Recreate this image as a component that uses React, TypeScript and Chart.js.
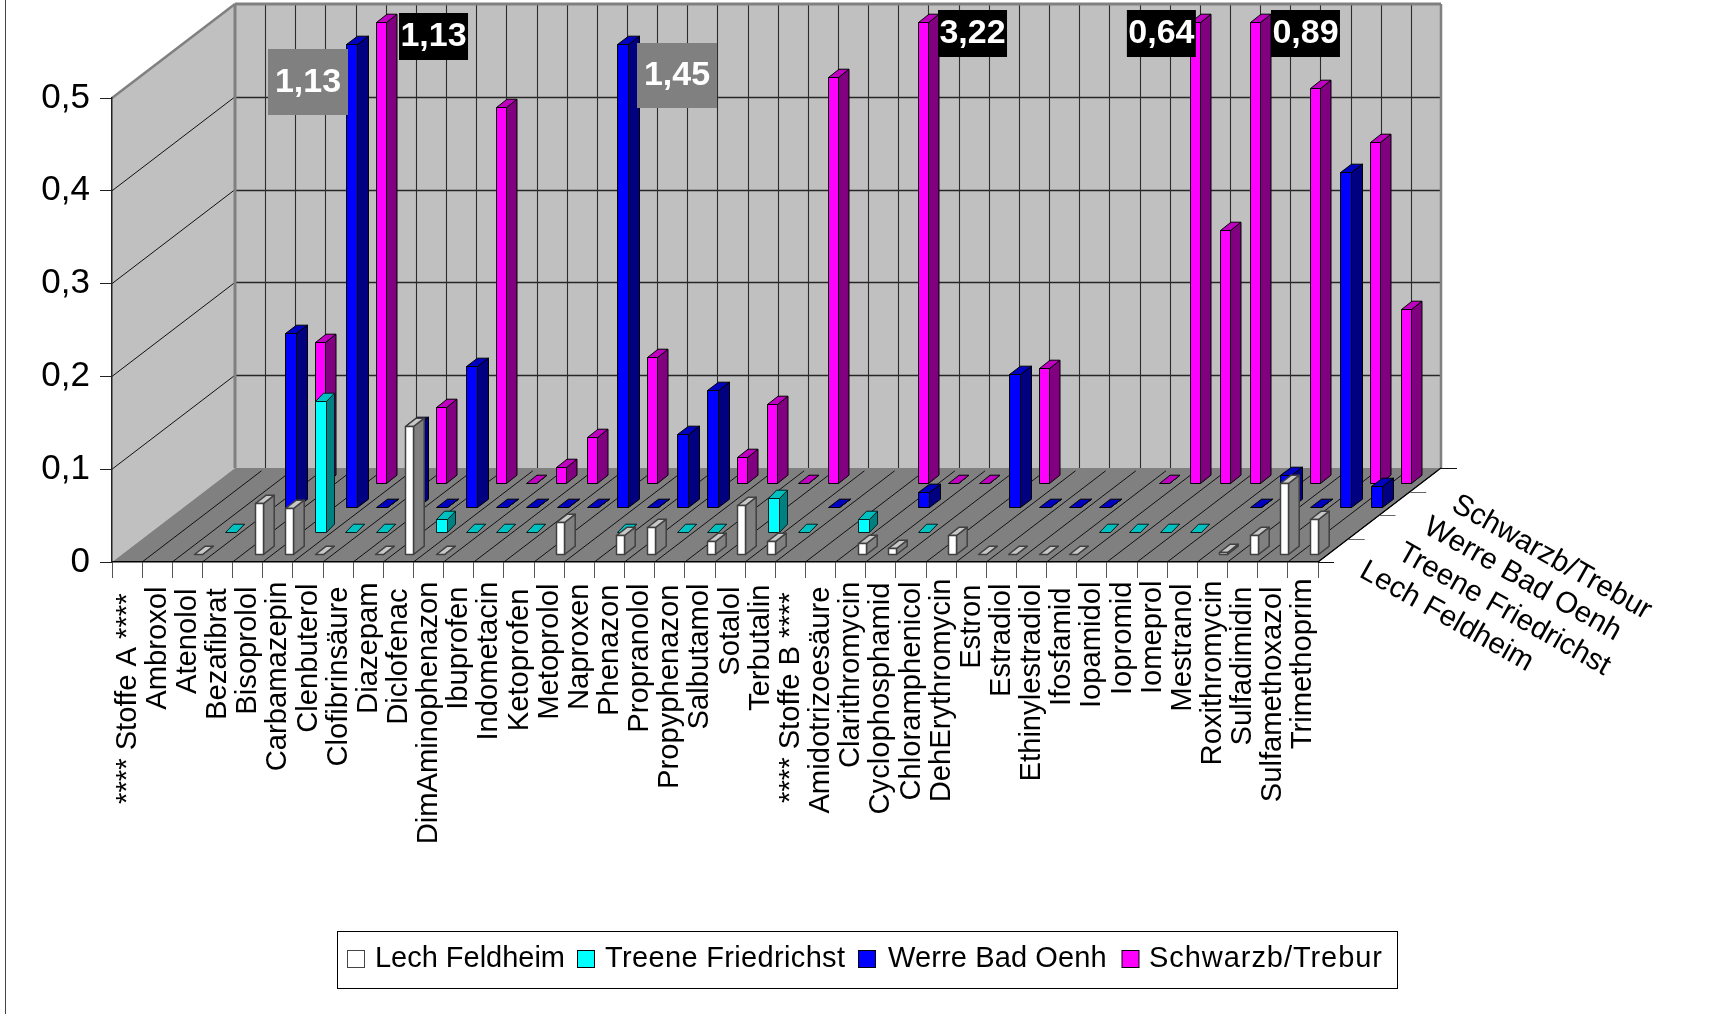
import React, { useEffect, useRef } from "react";
import { Chart, registerables } from "chart.js";

Chart.register(...registerables);

const categories = [
  "**** Stoffe A ****", "Ambroxol", "Atenolol", "Bezafibrat", "Bisoprolol", "Carbamazepin", "Clenbuterol",
  "Clofibrinsäure", "Diazepam", "Diclofenac", "DimAminophenazon", "Ibuprofen", "Indometacin", "Ketoprofen",
  "Metoprolol", "Naproxen", "Phenazon", "Propranolol", "Propyphenazon", "Salbutamol", "Sotalol", "Terbutalin",
  "**** Stoffe B ****", "Amidotrizoesäure", "Clarithromycin", "Cyclophosphamid", "Chloramphenicol",
  "DehErythromycin", "Estron", "Estradiol", "Ethinylestradiol", "Ifosfamid", "Iopamidol", "Iopromid", "Iomeprol",
  "Mestranol", "Roxithromycin", "Sulfadimidin", "Sulfamethoxazol", "Trimethoprim",
];

const N = null;
const lechFeldheim = [
  N, N, 0, N, 0.056, 0.05, 0, N, 0, 0.138,
  0, N, N, N, 0.035, N, 0.021, 0.03, N, 0.015,
  0.053, 0.015, N, N, 0.012, 0.0065, N, 0.021, 0, 0,
  0, 0, N, N, N, N, 0.003, 0.021, 0.077, 0.038,
];
const treeneFriedrichst = [
  N, N, 0, N, N, 0.1415, 0, 0, N, 0.0143,
  0, 0, 0, N, N, 0, 0, 0, 0, 0,
  0.0377, 0, N, 0.0143, N, 0, N, N, N, N,
  N, 0, 0, 0, 0, N, N, N, N, N,
];
const werreBadOenh = [
  N, N, N, 0.1884, N, 1.13, 0, 0.089, 0, 0.153,
  0, 0, 0, 0, 1.45, 0, 0.0793, 0.1267, N, N,
  N, 0, N, N, 0.0172, N, N, 0.144, 0, 0,
  0, N, N, N, N, 0, 0.035, 0, 0.362, 0.0233,
];
const schwarzbTrebur = [
  N, N, N, 0.153, N, 1.13, N, 0.0825, N, 0.4054,
  0, 0.018, 0.05, N, 0.136, N, N, 0.029, 0.0855, 0,
  0.4385, N, N, 3.22, 0, 0, N, 0.124, N, N,
  N, 0, 0.64, 0.2735, 0.89, N, 0.426, 0, 0.368, 0.1884,
];
const seriesNames = ["Lech Feldheim", "Treene Friedrichst", "Werre Bad Oenh", "Schwarzb/Trebur"];

const FONT = '"Liberation Sans", Arial, sans-serif';
const AREA = { left: 112, right: 1318, top: 98, bottom: 562 };
const DEPTH = { x: 123, y: 94 };
const FACE = ["#ffffff", "#00ffff", "#0000ff", "#ff00ff"];
const TOP = ["#c8c8c8", "#00c0c0", "#0000c0", "#c000c0"];
const SIDE = ["#808080", "#008080", "#000080", "#800080"];
const EDGE = ["#404040", "#002020", "#000000", "#000000"];
const EDGE_W = [1.5, 1, 1, 1];
const BAR_X = [7.0, 37.5, 67.7, 97.7];
const BAR_UP = [8, 30, 54.6, 79];
const BAR_W = [8, 10.7, 10.7, 10];
const BAR_SIDE = [10.7, 8, 11, 10.5];
const BAR_RISE = 8.3;
const BAR_CAP = [0.5, 0.5, 0.5, 0.497];

// Where each rotated category label ends, as the reference sets them unevenly.
const TICK_LABEL_TOPS = [
  592, 585, 587, 587, 585, 580, 582, 585, 581, 587, 580, 585, 580, 587, 582, 582, 583, 582, 583, 582,
  585, 583, 591, 585, 580, 581, 580, 577, 583, 582, 582, 586, 580, 580, 579, 582, 579, 585, 585, 577,
];
const TICK_LABEL_SHIFT = { x: 0.5, y: 1.5 };

const SERIES_LABEL_POS = [
  [1358, 576],
  [1396, 558],
  [1422, 532],
  [1450, 509.5],
];

const CALLOUTS = [
  { series: 2, index: 5, bg: "#808080", dx: -9.8, top: 49, w: 80, h: 66 },
  { series: 3, index: 5, bg: "#000000", dx: 121.2, top: 13, w: 69, h: 47 },
  { series: 2, index: 14, bg: "#808080", dx: 87.8, top: 43, w: 80, h: 65 },
  { series: 3, index: 23, bg: "#000000", dx: 117.5, top: 10, w: 69, h: 47 },
  { series: 3, index: 32, bg: "#000000", dx: 35, top: 10, w: 69, h: 47 },
  { series: 3, index: 34, bg: "#000000", dx: 118.8, top: 10, w: 69, h: 47 },
];

const LEGEND_BOX = { left: 337, top: 931, right: 1397, bottom: 988 };
const LEGEND_SWATCH_X = [347, 577, 858, 1121.5];
const LEGEND_TEXT_X = [375, 605, 888, 1149];
const LEGEND_TEXT_W = [190, 240, 218.6, 233];

const snap = (v: number) => Math.round(v) + 0.5;

function poly(ctx: CanvasRenderingContext2D, pts: number[][], fill?: string, stroke?: string, lw = 1) {
  ctx.beginPath();
  pts.forEach((p, i) => (i ? ctx.lineTo(p[0], p[1]) : ctx.moveTo(p[0], p[1])));
  ctx.closePath();
  if (fill) {
    ctx.fillStyle = fill;
    ctx.fill();
  }
  if (stroke) {
    ctx.strokeStyle = stroke;
    ctx.lineWidth = lw;
    ctx.stroke();
  }
}

function line(ctx: CanvasRenderingContext2D, x1: number, y1: number, x2: number, y2: number, c: string, lw = 1) {
  ctx.beginPath();
  ctx.moveTo(x1, y1);
  ctx.lineTo(x2, y2);
  ctx.strokeStyle = c;
  ctx.lineWidth = lw;
  ctx.stroke();
}

const scenePlugin = {
  id: "scene3d",
  beforeDraw(chart: any) {
    const ctx: CanvasRenderingContext2D = chart.ctx;
    const x = chart.scales.x;
    const y = chart.scales.y;
    const { left, right, top, bottom } = chart.chartArea;
    const bx = left + DEPTH.x;
    const bxr = right + DEPTH.x;
    const by = bottom - DEPTH.y;
    const ty = top - DEPTH.y;

    x.getLabelItems().forEach((item: any, i: number) => {
      const t = item.options.translation;
      item.options.translation = [t[0] + TICK_LABEL_SHIFT.x, TICK_LABEL_TOPS[i] + TICK_LABEL_SHIFT.y];
    });

    ctx.save();
    ctx.fillStyle = "#ffffff";
    ctx.fillRect(0, 0, chart.width, chart.height);
    line(ctx, 5.5, 0, 5.5, chart.height, "#444444", 1);

    // walls and floor
    ctx.fillStyle = "#c0c0c0";
    ctx.fillRect(bx, ty, bxr - bx, by - ty);
    poly(ctx, [[left, top], [bx, ty], [bx, by], [left, bottom]], "#c0c0c0");
    poly(ctx, [[left, bottom], [bx, by], [bxr, by], [right, bottom]], "#808080");

    // value grid
    y.ticks.forEach((t: any) => {
      const py = y.getPixelForValue(t.value);
      if (t.value > 0) {
        line(ctx, left, py, bx, py - DEPTH.y, "#111111", 1);
      }
      if (t.value > 0 && t.value < 0.5) {
        line(ctx, bx, snap(py - DEPTH.y), bxr, snap(py - DEPTH.y), "#262626", 1.3);
      }
    });
    // category grid
    const step = (right - left) / categories.length;
    for (let k = 0; k <= categories.length; k++) {
      const fx = left + k * step;
      if (k > 0 && k < categories.length) {
        line(ctx, snap(fx + DEPTH.x), ty, snap(fx + DEPTH.x), by, "#2c2c2c", 1.1);
      }
      if (k > 0) {
        line(ctx, fx, bottom, fx + DEPTH.x * 0.97, bottom - DEPTH.y * 0.97, "#111111", 1);
      }
    }
    // frame
    line(ctx, bx, ty, bx, by, "#808080", 3);
    line(ctx, bx, ty, bxr, ty, "#808080", 3);
    line(ctx, bxr, ty, bxr, by, "#808080", 2.5);
    line(ctx, left, top, bx, ty, "#808080", 2.5);
    // depth axis
    line(ctx, right, bottom, bxr, by, "#000000", 1.2);
    for (let d = 0; d <= 4; d++) {
      const px = right + (DEPTH.x * d) / 4;
      const py = snap(bottom - (DEPTH.y * d) / 4);
      line(ctx, px, py, px + 16, py, d % 4 === 0 ? "#111111" : "#666666", 1);
    }
    ctx.restore();
  },
  beforeDatasetsDraw(chart: any) {
    const ctx: CanvasRenderingContext2D = chart.ctx;
    const y = chart.scales.y;
    const zero = y.getPixelForValue(0);
    ctx.save();
    ctx.lineJoin = "round";
    for (let s = chart.data.datasets.length - 1; s >= 0; s--) {
      const meta = chart.getDatasetMeta(s);
      const values = chart.data.datasets[s].data;
      const cap = y.getPixelForValue(BAR_CAP[s]);
      meta.data.forEach((el: any, k: number) => {
        if (values[k] === null || values[k] === undefined) return;
        const h = zero - Math.max(el.y, cap);
        const base = snap(zero - BAR_UP[s]);
        const L = snap(el.x + BAR_X[s]);
        const W = Math.round(BAR_W[s]);
        const D = BAR_SIDE[s];
        const R = BAR_RISE;
        const t = h > 0.5 ? snap(base - h) : base;
        const e = EDGE[s];
        const lw = EDGE_W[s];
        poly(ctx, [[L + W, base], [L + W + D, base - R], [L + W + D, t - R], [L + W, t]], SIDE[s], e, lw);
        poly(ctx, [[L, t], [L + D, t - R], [L + W + D, t - R], [L + W, t]], TOP[s], e, lw);
        if (h > 0.5) poly(ctx, [[L, t], [L + W, t], [L + W, base], [L, base]], FACE[s], e, lw);
      });
    }
    ctx.restore();
    return false;
  },
  afterDraw(chart: any) {
    const ctx: CanvasRenderingContext2D = chart.ctx as any;
    const x = chart.scales.x;
    ctx.save();
    // depth-axis labels
    ctx.fillStyle = "#000000";
    ctx.font = `29.6px ${FONT}`;
    ctx.textAlign = "left";
    ctx.textBaseline = "alphabetic";
    chart.data.datasets.forEach((ds: any, i: number) => {
      const [px, py] = SERIES_LABEL_POS[i];
      ctx.save();
      ctx.translate(px, py);
      ctx.rotate((29.5 * Math.PI) / 180);
      ctx.fillText(ds.label, 0, 0);
      ctx.restore();
    });

    // legend
    ctx.font = `29px ${FONT}`;
    const b = LEGEND_BOX;
    ctx.fillStyle = "#ffffff";
    ctx.fillRect(b.left, b.top, b.right - b.left, b.bottom - b.top);
    ctx.strokeStyle = "#000000";
    ctx.lineWidth = 1;
    ctx.strokeRect(b.left + 0.5, b.top + 0.5, b.right - b.left, b.bottom - b.top);
    chart.data.datasets.forEach((ds: any, i: number) => {
      ctx.fillStyle = ds.backgroundColor;
      ctx.strokeStyle = ds.borderColor;
      ctx.fillRect(LEGEND_SWATCH_X[i] + 0.5, 950.5, 17, 17);
      ctx.strokeRect(LEGEND_SWATCH_X[i] + 0.5, 950.5, 17, 17);
      ctx.fillStyle = "#000000";
      (ctx as any).letterSpacing = "0px";
      const measured = ctx.measureText(ds.label).width;
      const extra = (LEGEND_TEXT_W[i] - measured) / (ds.label.length - 1);
      (ctx as any).letterSpacing = `${extra.toFixed(3)}px`;
      ctx.fillText(ds.label, LEGEND_TEXT_X[i], 966.5);
    });
    (ctx as any).letterSpacing = "0px";

    // off-scale value callouts
    ctx.font = `bold 34px ${FONT}`;
    ctx.textAlign = "center";
    ctx.textBaseline = "middle";
    CALLOUTS.forEach((c) => {
      const v = chart.data.datasets[c.series].data[c.index];
      const l = x.getPixelForValue(c.index) + c.dx;
      ctx.fillStyle = c.bg;
      ctx.fillRect(l, c.top, c.w, c.h);
      ctx.fillStyle = "#ffffff";
      ctx.fillText(v.toFixed(2).replace(".", ","), l + c.w / 2, c.top + c.h / 2 + 0.5);
    });
    ctx.restore();
  },
};

export default function App() {
  const ref = useRef<HTMLCanvasElement | null>(null);
  useEffect(() => {
    if (!ref.current) return;
    const series = [lechFeldheim, treeneFriedrichst, werreBadOenh, schwarzbTrebur];
    const chart = new Chart(ref.current, {
      type: "bar",
      data: {
        labels: categories,
        datasets: series.map((data, i) => ({
          label: seriesNames[i],
          data,
          backgroundColor: FACE[i],
          borderColor: i === 0 ? "#444444" : "#000000",
          borderWidth: 1,
        })),
      },
      options: {
        animation: false,
        responsive: false,
        devicePixelRatio: 1,
        layout: { padding: { left: 0, top: AREA.top, right: 1724 - AREA.right, bottom: 0 } },
        datasets: { bar: { grouped: false, categoryPercentage: 1, barPercentage: 0.4 } },
        scales: {
          x: {
            type: "category",
            offset: true,
            afterFit: (s: any) => {
              s.height = 1014 - AREA.bottom;
            },
            grid: { drawOnChartArea: false, tickLength: 16, color: "#555555", offset: true, lineWidth: 1 },
            border: { color: "#000000", width: 1.5 },
            ticks: {
              autoSkip: false,
              minRotation: 90,
              maxRotation: 90,
              padding: 6,
              color: "#000000",
              font: { family: FONT, size: 29.2 },
            },
          },
          y: {
            min: 0,
            max: 0.5,
            afterFit: (s: any) => {
              s.width = AREA.left;
            },
            grid: { drawOnChartArea: false, tickLength: 12, color: "#222222", lineWidth: 1 },
            border: { color: "#222222", width: 1.5 },
            ticks: {
              stepSize: 0.1,
              padding: 10,
              color: "#000000",
              font: { family: FONT, size: 35 },
              callback: (v: any) => (Number(v) === 0 ? "0" : Number(v).toFixed(1).replace(".", ",")),
            },
          },
        },
        plugins: {
          title: { display: false },
          tooltip: { enabled: false },
          legend: { display: false },
        },
      },
      plugins: [scenePlugin],
    } as any);
    return () => chart.destroy();
  }, []);
  return (
    <div style={{ position: "fixed", left: 0, top: 0, width: 1724, height: 1014, background: "#fff" }}>
      <canvas ref={ref} width={1724} height={1014} style={{ display: "block", width: 1724, height: 1014 }} />
    </div>
  );
}
